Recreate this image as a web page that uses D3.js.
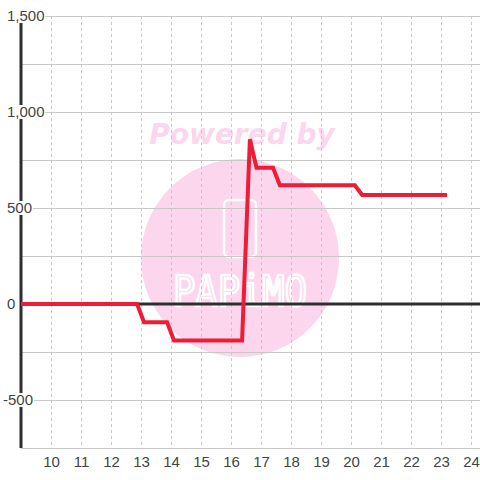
<!DOCTYPE html>
<html><head><meta charset="utf-8">
<script src="https://cdn.jsdelivr.net/npm/d3@7"></script>
<style>html,body{margin:0;padding:0;background:#fff;}svg{display:block;}</style>
</head><body>
<script>
const xValues = [9, 12.87, 13.1, 13.87, 14.1, 16.37, 16.63, 16.85, 17.4, 17.63, 20.13, 20.37, 23.2];
const yValues = [0, 0, -95, -95, -190, -190, 858, 710, 710, 618, 618, 568, 568];
const xTicks = [10, 11, 12, 13, 14, 15, 16, 17, 18, 19, 20, 21, 22, 23, 24];
const yTicks = [-500, 0, 500, 1000, 1500];
const yGrid = [-750, -500, -250, 0, 250, 500, 750, 1000, 1250, 1500];

const W = 480, H = 480;
const svg = d3.select("body").append("svg").attr("width", W).attr("height", H);
const x = d3.scaleLinear().domain([9, 24.3]).range([21, 480]);
const y = d3.scaleLinear().domain([-750, 1500]).range([448, 16]);

// watermark
const wm = svg.append("g");
wm.append("circle").attr("cx", 240).attr("cy", 258).attr("r", 99).attr("fill", "#fcd6ec");
wm.append("text").attr("x", 242).attr("y", 144).attr("text-anchor", "middle")
  .attr("font-family", "DejaVu Sans, sans-serif").attr("font-weight", "bold").attr("font-style", "italic")
  .attr("font-size", 28).attr("fill", "#fcd6ec").text("Powered by");
wm.append("rect").attr("x", 224).attr("y", 200).attr("width", 32).attr("height", 57).attr("rx", 5)
  .attr("fill", "none").attr("stroke", "#fff").attr("stroke-width", 2.5);
wm.append("text").attr("x", 173).attr("y", 306).attr("textLength", 134).attr("lengthAdjust", "spacingAndGlyphs")
  .attr("font-family", "DejaVu Sans Mono, monospace").attr("font-size", 42).attr("fill", "none")
  .attr("stroke", "#fff").attr("stroke-width", 2.5).text("PAPiMO");

// grid
const grid = svg.append("g");
grid.selectAll(".hg").data(yGrid).join("line")
  .attr("x1", 21).attr("x2", 480).attr("y1", d => y(d) + 0.5).attr("y2", d => y(d) + 0.5)
  .attr("stroke", "#c8c8c8").attr("stroke-width", 1);
grid.selectAll(".vg").data(xTicks).join("line")
  .attr("x1", d => x(d) + 0.5).attr("x2", d => x(d) + 0.5).attr("y1", y(1500)).attr("y2", y(-750))
  .attr("stroke", "#c8c8c8").attr("stroke-width", 1).attr("stroke-dasharray", "3,3");

// axes lines
svg.append("line").attr("x1", x(9) ).attr("x2", x(9)).attr("y1", y(1500)).attr("y2", y(-750))
  .attr("stroke", "#2e2e2e").attr("stroke-width", 3);
svg.append("line").attr("x1", x(9)).attr("x2", 480).attr("y1", y(0)).attr("y2", y(0))
  .attr("stroke", "#2e2e2e").attr("stroke-width", 3);

// y labels with white boxes
const fmt = v => d3.format(",")(v).replace("\u2212", "-");
const yl = svg.append("g").attr("font-family", "Liberation Sans, Arial, sans-serif").attr("font-size", 15).attr("fill", "#444");
yTicks.forEach(v => {
  const t = yl.append("text").attr("x", v < 0 ? 3 : 7).attr("y", y(v)).attr("dy", "0.35em").text(fmt(v));
  const b = t.node().getBBox();
  yl.insert("rect", () => t.node()).attr("x", b.x - 1).attr("y", y(v) - 7).attr("width", b.width + 2).attr("height", 14).attr("fill", "#fff");
});

// x labels
svg.append("g").attr("font-family", "Liberation Sans, Arial, sans-serif").attr("font-size", 15).attr("fill", "#444")
  .selectAll("text").data(xTicks).join("text")
  .attr("x", d => x(d) + 0.5).attr("y", 467).attr("text-anchor", "middle").text(d => d);

// series
const pts = xValues.map((v, i) => [v, yValues[i]]);
svg.append("path").datum(pts)
  .attr("d", d3.line().x(d => x(d[0])).y(d => y(d[1])))
  .attr("fill", "none").attr("stroke", "#ee1c36").attr("stroke-width", 4).attr("stroke-linejoin", "miter");
</script>
</body></html>
